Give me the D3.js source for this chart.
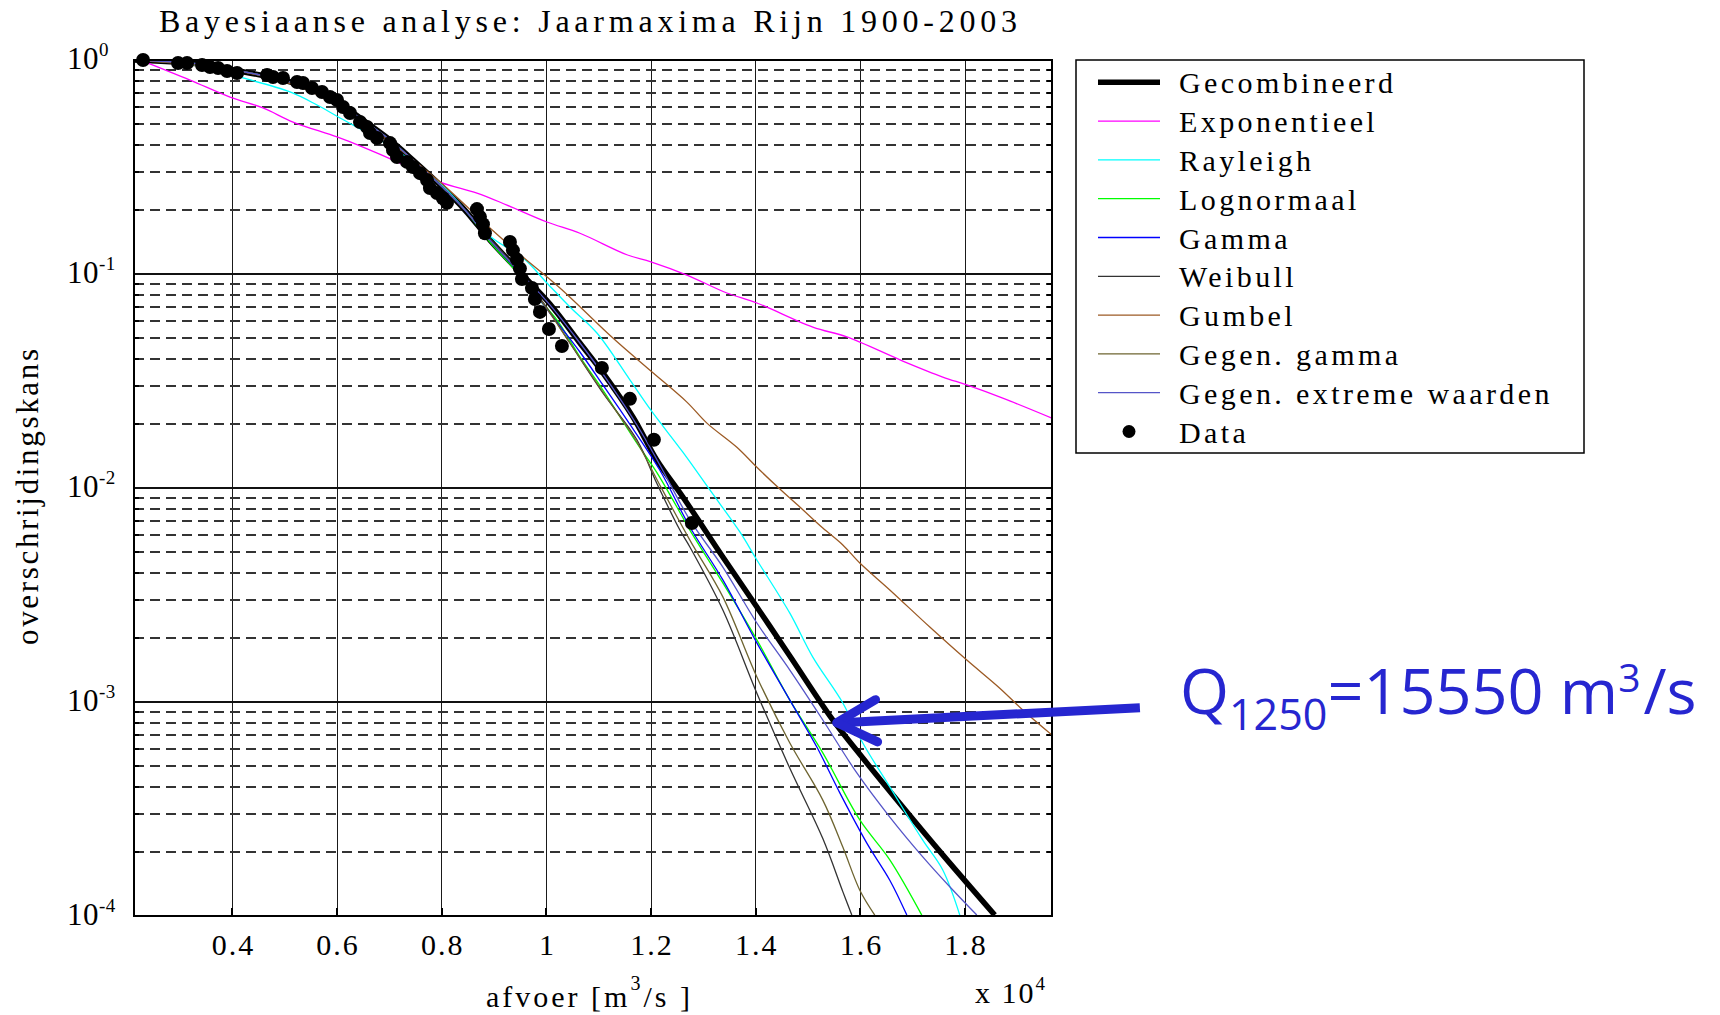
<!DOCTYPE html>
<html>
<head>
<meta charset="utf-8">
<script src="https://cdn.jsdelivr.net/npm/d3@7"></script>
<style>
body { margin: 0; background: #fff; }
svg text { font-family: "Liberation Serif", "Times New Roman", serif; fill: #000; }
</style>
</head>
<body>
<div id="chart"></div>
<script>
//////////// DATA
var xTicks = [4000, 6000, 8000, 10000, 12000, 14000, 16000, 18000];
var xTickLabels = ["0.4", "0.6", "0.8", "1", "1.2", "1.4", "1.6", "1.8"];
var yTicks = [1, 0.1, 0.01, 0.001, 0.0001];
var yTickExps = ["0", "-1", "-2", "-3", "-4"];

var legendNames = ["Gecombineerd", "Exponentieel", "Rayleigh", "Lognormaal", "Gamma",
	"Weibull", "Gumbel", "Gegen. gamma", "Gegen. extreme waarden", "Data"];

var gecombQ = [2120,3382,4012,4719,5349,6056,6495,7011,7450,7966,8443,8921,9494,10067,10640,11079,11652,12111,12607,13371,14021,14651,15472,16045,16809,17573,18566];
var gecombP = [1,0.958,0.898,0.833,0.756,0.623,0.524,0.423,0.341,0.261,0.199,0.144,0.102,0.0724,0.0476,0.0345,0.0215,0.0135,0.00908,0.00476,0.00278,0.00164,0.000824,0.000547,0.000323,0.000193,0.000101];

var expoQ = [2293,3191,3955,4585,5158,5999,6495,7202,7966,8673,9246,10010,10640,11538,11996,12684,13448,14021,15090,15740,16809,17573,18032,18719,19660];
var expoP = [0.989,0.806,0.671,0.597,0.513,0.437,0.392,0.330,0.269,0.239,0.210,0.175,0.155,0.123,0.114,0.0989,0.0815,0.0732,0.0565,0.0508,0.0392,0.0330,0.0303,0.0263,0.0212];

var raylQ = [2120,3248,4203,5101,5617,6056,7011,7966,8921,9551,10010,10449,10965,11595,11996,12607,13123,13696,14021,14651,15090,15663,16045,16561,17191,17573,17898];
var raylP = [1,0.948,0.824,0.709,0.616,0.536,0.396,0.266,0.150,0.119,0.0908,0.0701,0.0530,0.0320,0.0231,0.0147,0.00979,0.00623,0.00461,0.00260,0.00162,0.000989,0.000643,0.000401,0.000226,0.000164,0.000101];

var lognQ = [2120,3382,4012,4719,5349,6056,6495,7011,7450,7966,8443,8921,9360,9819,10201,10640,11079,11729,12111,12493,12741,13371,14021,14651,15281,15988,16561,17172];
var lognP = [1,0.958,0.898,0.833,0.756,0.623,0.524,0.423,0.341,0.261,0.199,0.141,0.107,0.0781,0.0610,0.0410,0.0287,0.0162,0.0118,0.00815,0.00636,0.00360,0.00195,0.00102,0.000578,0.000281,0.000183,0.000101];

var gammaQ = [2120,3382,4012,4719,5349,6056,6495,7011,7450,7966,8443,8921,9494,10067,10640,11079,11538,12168,12741,13371,14021,14651,15167,15606,16122,16561,16886];
var gammaP = [1,0.958,0.898,0.833,0.756,0.623,0.524,0.423,0.341,0.261,0.199,0.144,0.100,0.0657,0.0432,0.0303,0.0208,0.0121,0.00657,0.00372,0.00189,0.00102,0.000616,0.000376,0.000219,0.000147,0.000101];

var weibQ = [2120,3382,4012,4719,5349,6056,6495,7011,7450,7966,8443,8921,9494,9971,10449,11079,11729,12111,12550,12741,13371,14021,14651,15281,15663,15835];
var weibP = [1,0.958,0.898,0.833,0.756,0.623,0.524,0.423,0.341,0.261,0.199,0.147,0.102,0.0717,0.0476,0.0278,0.0168,0.0105,0.00636,0.00530,0.00269,0.00110,0.000490,0.000230,0.000130,0.000101];

var gumbQ = [2120,4012,5349,6056,7011,7966,8921,9551,10258,11270,11996,12684,13066,13639,14021,14460,14842,15281,15663,15988,16561,17325,18032,18662,19101,19660];
var gumbP = [1,0.898,0.740,0.597,0.414,0.269,0.164,0.120,0.0860,0.0502,0.0352,0.0252,0.0201,0.0155,0.0125,0.00989,0.00815,0.00650,0.00542,0.00446,0.00334,0.00224,0.00157,0.00116,0.000918,0.000701];

var ggamQ = [2120,3382,4012,4719,5349,6056,6495,7011,7450,7966,8443,8921,9494,9971,10449,11117,11729,12168,12741,13371,14021,14651,15281,15663,15988,16274];
var ggamP = [1,0.958,0.898,0.833,0.756,0.623,0.524,0.423,0.341,0.261,0.199,0.144,0.101,0.0709,0.0476,0.0272,0.0164,0.0103,0.00571,0.00310,0.00131,0.000643,0.000348,0.000210,0.000132,0.000101];

var gevQ = [2120,3382,4012,4719,5349,6056,6495,7011,7450,7966,8443,8921,9494,10067,10640,11079,11729,12168,12741,13371,14021,14651,15281,15931,16561,17191,17707,18223];
var gevP = [1,0.958,0.898,0.833,0.756,0.623,0.524,0.423,0.341,0.261,0.199,0.144,0.102,0.0717,0.0476,0.0341,0.0197,0.0128,0.00709,0.00427,0.00234,0.00141,0.000824,0.000466,0.000290,0.000189,0.000137,0.000101];

var dataQ = [2293,2962,3134,3420,3573,3726,3898,4089,4662,4776,4967,5235,5349,5521,5712,5865,5999,6113,6247,6438,6572,6629,6763,7011,7068,7145,7336,7450,7584,7718,7775,7909,8023,8100,8673,8730,8787,8825,9303,9360,9437,9494,9532,9723,9780,9876,10048,10296,11060,11595,12053,12779];
var dataP = [1.000,0.968,0.968,0.948,0.927,0.918,0.888,0.870,0.851,0.833,0.824,0.789,0.781,0.740,0.709,0.672,0.650,0.603,0.565,0.513,0.486,0.456,0.432,0.409,0.380,0.352,0.334,0.316,0.296,0.275,0.252,0.239,0.226,0.215,0.201,0.185,0.171,0.155,0.141,0.129,0.117,0.106,0.0947,0.0860,0.0764,0.0665,0.0553,0.0461,0.0364,0.0261,0.0168,0.00686];

var q1250 = 15550;
var returnPeriod = 1250;

//////////// LAYOUT
var totalW = 1720, totalH = 1015;
var plotL = 134, plotT = 60, plotR = 1052, plotB = 916;

var svg = d3.select("#chart").append("svg")
	.attr("width", totalW)
	.attr("height", totalH);

var x = d3.scaleLinear().domain([2120, 19660]).range([plotL, plotR]);
var y = d3.scaleLog().domain([1e-4, 1]).range([plotB, plotT]);

// minor log positions 2..9 per decade
var yMinor = [];
for (var k = -4; k < 0; k++) {
	for (var m = 2; m <= 9; m++) yMinor.push(m * Math.pow(10, k));
}

//////////// GRID
var grid = svg.append("g").attr("shape-rendering", "crispEdges");
grid.selectAll("line.vg").data(xTicks).enter().append("line")
	.attr("x1", function(d) { return x(d); }).attr("x2", function(d) { return x(d); })
	.attr("y1", plotT).attr("y2", plotB)
	.attr("stroke", "#1a1a1a").attr("stroke-width", 1);
grid.selectAll("line.hg").data(yTicks).enter().append("line")
	.attr("x1", plotL).attr("x2", plotR)
	.attr("y1", function(d) { return y(d); }).attr("y2", function(d) { return y(d); })
	.attr("stroke", "#111").attr("stroke-width", 1.5);
grid.selectAll("line.mg").data(yMinor).enter().append("line")
	.attr("x1", plotL).attr("x2", plotR)
	.attr("y1", function(d) { return Math.round(y(d)); })
	.attr("y2", function(d) { return Math.round(y(d)); })
	.attr("stroke", "#333").attr("stroke-width", 2)
	.attr("stroke-dasharray", "10,6");

// small tick marks on the frame
grid.selectAll("line.tl").data(yMinor).enter().append("line")
	.attr("x1", plotL).attr("x2", plotL + 5)
	.attr("y1", function(d) { return Math.round(y(d)); })
	.attr("y2", function(d) { return Math.round(y(d)); })
	.attr("stroke", "#000").attr("stroke-width", 2);
grid.selectAll("line.tr").data(yMinor).enter().append("line")
	.attr("x1", plotR - 5).attr("x2", plotR)
	.attr("y1", function(d) { return Math.round(y(d)); })
	.attr("y2", function(d) { return Math.round(y(d)); })
	.attr("stroke", "#000").attr("stroke-width", 2);
grid.selectAll("line.tb").data(xTicks).enter().append("line")
	.attr("x1", function(d) { return x(d); }).attr("x2", function(d) { return x(d); })
	.attr("y1", plotB).attr("y2", plotB - 8)
	.attr("stroke", "#000").attr("stroke-width", 2);

//////////// CURVES
svg.append("clipPath").attr("id", "plotclip")
	.append("rect").attr("x", plotL).attr("y", plotT)
	.attr("width", plotR - plotL).attr("height", plotB - plotT);

function zip(qs, ps) { return qs.map(function(q, i) { return [q, ps[i]]; }); }

var series = [
	{ pts: zip(gecombQ, gecombP), color: "#000000", w: 5.5 },
	{ pts: zip(expoQ, expoP), color: "#ff00ff", w: 1.3 },
	{ pts: zip(raylQ, raylP), color: "#00ffff", w: 1.3 },
	{ pts: zip(lognQ, lognP), color: "#00ff00", w: 1.3 },
	{ pts: zip(gammaQ, gammaP), color: "#0000ff", w: 1.3 },
	{ pts: zip(weibQ, weibP), color: "#333333", w: 1.3 },
	{ pts: zip(gumbQ, gumbP), color: "#9c5a24", w: 1.3 },
	{ pts: zip(ggamQ, ggamP), color: "#6e6430", w: 1.3 },
	{ pts: zip(gevQ, gevP), color: "#5555c8", w: 1.3 }
];

var line = d3.line()
	.curve(d3.curveCatmullRom.alpha(0.5))
	.x(function(d) { return x(d[0]); })
	.y(function(d) { return y(d[1]); });

svg.append("g").attr("clip-path", "url(#plotclip)")
	.selectAll("path").data(series).enter().append("path")
	.attr("d", function(d) { return line(d.pts); })
	.attr("fill", "none")
	.attr("stroke", function(d) { return d.color; })
	.attr("stroke-width", function(d) { return d.w; })
	.attr("stroke-linejoin", "round");

svg.append("g").selectAll("circle").data(zip(dataQ, dataP)).enter().append("circle")
	.attr("cx", function(d) { return x(d[0]); })
	.attr("cy", function(d) { return y(d[1]); })
	.attr("r", 7)
	.attr("fill", "#000");

// frame
svg.append("rect").attr("x", plotL).attr("y", plotT)
	.attr("width", plotR - plotL).attr("height", plotB - plotT)
	.attr("fill", "none").attr("stroke", "#000").attr("stroke-width", 2)
	.attr("shape-rendering", "crispEdges");

//////////// AXIS LABELS
svg.selectAll("text.xt").data(xTicks).enter().append("text")
	.attr("x", function(d) { return x(d) + 1; })
	.attr("y", 955)
	.attr("text-anchor", "middle")
	.style("font-size", "30px")
	.style("letter-spacing", "2px")
	.text(function(d, i) { return xTickLabels[i]; });

yTicks.forEach(function(t, i) {
	var tx = svg.append("text").attr("x", 67).attr("y", y(t) + 9)
		.style("font-size", "31px").style("letter-spacing", "0.5px");
	tx.append("tspan").text("10");
	tx.append("tspan").attr("dy", -13).style("font-size", "19px").text(yTickExps[i]);
});

var xl = svg.append("text").attr("x", 486).attr("y", 1007)
	.style("font-size", "30px").style("letter-spacing", "3px");
xl.append("tspan").text("afvoer [m");
xl.append("tspan").attr("dy", -17).style("font-size", "20px").text("3");
xl.append("tspan").attr("dy", 17).text("/s ]");

var xm = svg.append("text").attr("x", 975).attr("y", 1003)
	.style("font-size", "30px").style("letter-spacing", "2px");
xm.append("tspan").text("x 10");
xm.append("tspan").attr("dy", -13).style("font-size", "19px").text("4");

svg.append("text")
	.attr("transform", "translate(38,497) rotate(-90)")
	.attr("text-anchor", "middle")
	.attr("textLength", 296).attr("lengthAdjust", "spacing")
	.style("font-size", "31px")
	.text("overschrijdingskans");

svg.append("text")
	.attr("x", 588).attr("y", 32)
	.attr("text-anchor", "middle")
	.attr("textLength", 858).attr("lengthAdjust", "spacing")
	.style("font-size", "32px")
	.text("Bayesiaanse analyse: Jaarmaxima Rijn 1900-2003");

//////////// LEGEND
var lg = svg.append("g");
lg.append("rect").attr("x", 1076).attr("y", 60).attr("width", 508).attr("height", 393)
	.attr("fill", "#fff").attr("stroke", "#000").attr("stroke-width", 1.5);
var lStep = 38.8, lTop = 82.3;
legendNames.forEach(function(name, i) {
	var ly = lTop + i * lStep;
	if (i < series.length) {
		lg.append("line").attr("x1", 1098).attr("x2", 1160).attr("y1", ly).attr("y2", ly)
			.attr("stroke", series[i].color).attr("stroke-width", series[i].w);
	} else {
		lg.append("circle").attr("cx", 1129).attr("cy", ly).attr("r", 6.5).attr("fill", "#000");
	}
	lg.append("text").attr("x", 1179).attr("y", ly + 11)
		.style("font-size", "30px").style("letter-spacing", "3.4px")
		.text(name);
});

//////////// ANNOTATION
var blue = "#2626d0";
var tipX = x(q1250), tipY = y(1 / returnPeriod);
var tailX = tipX + 303, tailY = tipY - 15;
var ang = Math.atan2(tailY - tipY, tailX - tipX);
var headLen = 45, headAng = 28 * Math.PI / 180;
var arrow = svg.append("g").attr("stroke", blue).attr("stroke-linecap", "round").attr("fill", "none");
arrow.append("line").attr("x1", tailX).attr("y1", tailY).attr("x2", tipX + 4).attr("y2", tipY)
	.attr("stroke-width", 9).attr("stroke-linecap", "butt");
[-1, 1].forEach(function(s) {
	arrow.append("line").attr("x1", tipX).attr("y1", tipY)
		.attr("x2", tipX + headLen * Math.cos(ang + s * headAng))
		.attr("y2", tipY + headLen * Math.sin(ang + s * headAng))
		.attr("stroke-width", 9);
});

var ann = svg.append("text").attr("x", 1180).attr("y", 714)
	.style("font-family", "'Open Sans', 'Noto Sans', sans-serif")
	.style("font-size", "63px").style("fill", blue);
ann.append("tspan").text("Q");
ann.append("tspan").attr("dy", 16).style("font-size", "43px").text("1250");
ann.append("tspan").attr("dy", -16).text("=15550 m");
ann.append("tspan").attr("dy", -22).style("font-size", "39px").text("3");
ann.append("tspan").attr("dx", 3).attr("dy", 22).text("/s");
</script>
</body>
</html>
